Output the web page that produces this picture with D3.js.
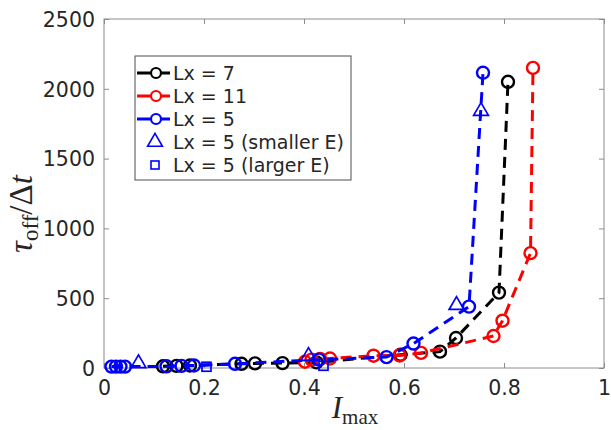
<!DOCTYPE html>
<html>
<head>
<meta charset="utf-8">
<script src="https://cdn.jsdelivr.net/npm/d3@7"></script>
<style>
  html, body { margin: 0; padding: 0; background: #fff; }
  svg { display: block; }
</style>
</head>
<body>
<svg id="chart" width="611" height="430"></svg>
<script>
// Off-time versus peak current for three lattice lengths
const lx7X  = [0.118, 0.145, 0.172, 0.275, 0.302, 0.357, 0.425, 0.593, 0.672, 0.704, 0.790, 0.808];
const lx7Y  = [12, 15, 18, 30, 33, 35, 40, 95, 117, 215, 540, 2050];

const lx11X = [0.402, 0.415, 0.432, 0.452, 0.539, 0.591, 0.634, 0.779, 0.797, 0.853, 0.858];
const lx11Y = [45, 60, 65, 68, 88, 90, 108, 229, 339, 823, 2150];

const lx5X  = [0.015, 0.024, 0.033, 0.042, 0.125, 0.155, 0.180, 0.262, 0.430, 0.565, 0.619, 0.730, 0.758];
const lx5Y  = [10, 10, 10, 10, 12, 15, 18, 30, 60, 78, 175, 440, 2115];

const smallerEX = [0.069, 0.409, 0.705, 0.754];
const smallerEY = [33, 85, 450, 1840];

const largerEX = [0.205, 0.439];
const largerEY = [9, 16];

const xTicks = [0, 0.2, 0.4, 0.6, 0.8, 1];
const yTicks = [0, 500, 1000, 1500, 2000, 2500];

const legendLabels = ["Lx = 7", "Lx = 11", "Lx = 5", "Lx = 5 (smaller E)", "Lx = 5 (larger E)"];

const svg = d3.select("#chart");
const plotLeft = 104, plotRight = 604, plotTop = 19, plotBottom = 368;

const x = d3.scaleLinear().domain([0, 1]).range([plotLeft, plotRight]);
const y = d3.scaleLinear().domain([0, 2500]).range([plotBottom, plotTop]);

const axisColor = "#8c8c8c";
const textColor = "#262626";
const font = "'DejaVu Sans', sans-serif";
const dash = "11,7";

// frame
svg.append("rect")
  .attr("x", plotLeft).attr("y", plotTop)
  .attr("width", plotRight - plotLeft).attr("height", plotBottom - plotTop)
  .attr("fill", "none").attr("stroke", axisColor).attr("stroke-width", 1);

// axes with inward ticks on all four sides
const tickLen = 5;
const xb = svg.append("g").attr("transform", `translate(0,${plotBottom})`)
  .call(d3.axisBottom(x).tickValues(xTicks).tickSizeInner(-tickLen).tickSizeOuter(0).tickPadding(12)
        .tickFormat(d => d === 0 || d === 1 ? d3.format("d")(d) : d3.format(".1f")(d)));
const xt = svg.append("g").attr("transform", `translate(0,${plotTop})`)
  .call(d3.axisTop(x).tickValues(xTicks).tickSizeInner(-tickLen).tickSizeOuter(0).tickFormat(""));
const yl = svg.append("g").attr("transform", `translate(${plotLeft},0)`)
  .call(d3.axisLeft(y).tickValues(yTicks).tickSizeInner(-tickLen).tickSizeOuter(0).tickPadding(9)
        .tickFormat(d3.format("d")));
const yr = svg.append("g").attr("transform", `translate(${plotRight},0)`)
  .call(d3.axisRight(y).tickValues(yTicks).tickSizeInner(-tickLen).tickSizeOuter(0).tickFormat(""));

[xb, xt, yl, yr].forEach(g => {
  g.select(".domain").remove();
  g.selectAll(".tick line").attr("stroke", axisColor);
  g.selectAll(".tick text").attr("fill", textColor)
    .style("font-family", font).style("font-size", "20.5px");
});
xb.selectAll(".tick text").attr("dy", "0.71em");
yl.selectAll(".tick text").attr("dy", "0.36em");

// axis titles
const xlab = svg.append("text")
  .attr("x", 355).attr("y", 418)
  .attr("text-anchor", "middle")
  .attr("fill", textColor)
  .style("font-family", "'Liberation Serif', serif").style("font-size", "31px");
xlab.append("tspan").style("font-style", "italic").text("I");
xlab.append("tspan").attr("dy", 6).style("font-size", "21px").text("max");

const ylab = svg.append("text")
  .attr("transform", "translate(32,214) rotate(-90)")
  .attr("text-anchor", "middle")
  .attr("fill", textColor)
  .style("font-family", "'Liberation Serif', serif").style("font-size", "33px");
ylab.append("tspan").style("font-style", "italic").text("τ");
ylab.append("tspan").attr("dy", 6).style("font-size", "23px").text("off");
ylab.append("tspan").attr("dy", -6).text("/Δ");
ylab.append("tspan").style("font-style", "italic").text("t");

// series
const series = [
  { xs: lx7X,  ys: lx7Y,  color: "#000000" },
  { xs: lx11X, ys: lx11Y, color: "#ff0000" },
  { xs: lx5X,  ys: lx5Y,  color: "#0000ff" }
];

const line = d3.line().x(d => x(d[0])).y(d => y(d[1]));

series.forEach(s => {
  const pts = s.xs.map((v, i) => [v, s.ys[i]]);
  const g = svg.append("g");
  g.append("path")
    .datum(pts)
    .attr("d", line)
    .attr("fill", "none")
    .attr("stroke", s.color)
    .attr("stroke-width", 3)
    .attr("stroke-dasharray", dash);
  g.selectAll("circle").data(pts).join("circle")
    .attr("cx", d => x(d[0])).attr("cy", d => y(d[1]))
    .attr("r", 6)
    .attr("fill", "none")
    .attr("stroke", s.color)
    .attr("stroke-width", 2.4);
});

// marker-only runs
const triPts = smallerEX.map((v, i) => [v, smallerEY[i]]);
const sqPts = largerEX.map((v, i) => [v, largerEY[i]]);
const triSym = d3.symbol().type(d3.symbolTriangle).size(95);

svg.append("g").selectAll("path").data(triPts).join("path")
  .attr("d", triSym)
  .attr("transform", d => `translate(${x(d[0])},${y(d[1])})`)
  .attr("fill", "none").attr("stroke", "#0000ff").attr("stroke-width", 1.7);

svg.append("g").selectAll("rect").data(sqPts).join("rect")
  .attr("x", d => x(d[0]) - 4.5).attr("y", d => y(d[1]) - 4.5)
  .attr("width", 9).attr("height", 9)
  .attr("fill", "none").attr("stroke", "#0000ff").attr("stroke-width", 1.7);

// legend
const lg = svg.append("g");
lg.append("rect")
  .attr("x", 135).attr("y", 56).attr("width", 216).attr("height", 124)
  .attr("fill", "#fff").attr("stroke", "#4d4d4d").attr("stroke-width", 1);

const legendColors = ["#000000", "#ff0000", "#0000ff", "#0000ff", "#0000ff"];
const legendKinds = ["line", "line", "line", "tri", "sq"];
const rowY = d3.scalePoint().domain(d3.range(legendLabels.length)).range([73, 165]);

legendLabels.forEach((lab, i) => {
  const cy = rowY(i);
  const c = legendColors[i];
  if (legendKinds[i] === "line") {
    lg.append("line").attr("x1", 137).attr("x2", 170).attr("y1", cy).attr("y2", cy)
      .attr("stroke", c).attr("stroke-width", 2.8).attr("stroke-dasharray", "13,7");
    lg.append("circle").attr("cx", 156).attr("cy", cy).attr("r", 5)
      .attr("fill", "#fff").attr("stroke", c).attr("stroke-width", 2.2);
  } else if (legendKinds[i] === "tri") {
    lg.append("path").attr("d", triSym).attr("transform", `translate(155,${cy})`)
      .attr("fill", "none").attr("stroke", c).attr("stroke-width", 1.6);
  } else {
    lg.append("rect").attr("x", 151).attr("y", cy - 4).attr("width", 8).attr("height", 8)
      .attr("fill", "none").attr("stroke", c).attr("stroke-width", 1.6);
  }
  lg.append("text")
    .attr("x", 173).attr("y", cy).attr("dy", "0.36em")
    .attr("fill", textColor)
    .style("font-family", font).style("font-size", "19px")
    .text(lab);
});
</script>
</body>
</html>
